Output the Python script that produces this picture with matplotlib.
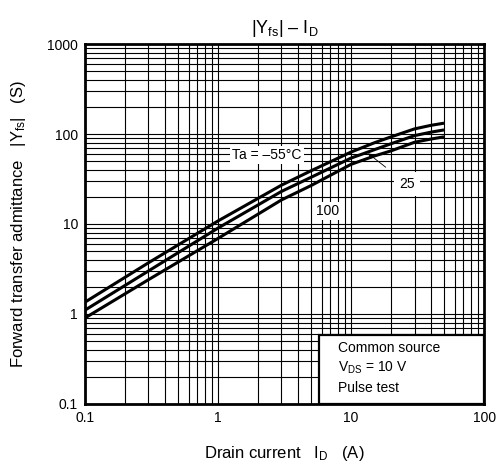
import matplotlib
matplotlib.use("Agg")
import matplotlib.pyplot as plt
from matplotlib.patches import Rectangle
from matplotlib.ticker import LogLocator, NullFormatter, FixedLocator

plt.rcParams["font.family"] = ["Liberation Sans", "DejaVu Sans"]
plt.rcParams["mathtext.fontset"] = "custom"
plt.rcParams["mathtext.rm"] = "Liberation Sans"
plt.rcParams["mathtext.it"] = "Liberation Sans"

# drain current (A)
drain_current = [0.1, 0.3, 1, 3, 5, 10, 15, 20, 30, 40, 50]
# forward transfer admittance |Yfs| (S) per ambient temperature
yfs_m55 = [1.35, 3.7, 10.8, 27, 39, 63, 80, 93, 114, 125, 132]
yfs_25 = [1.1, 3.0, 9.0, 23, 33, 54, 67, 78, 96, 105, 111]
yfs_100 = [0.9, 2.4, 6.9, 18.5, 26.7, 46, 57, 65, 81, 88, 93]

x_ticks = [0.1, 1, 10, 100]
x_tick_labels = ["0.1", "1", "10", "100"]
y_ticks = [0.1, 1, 10, 100, 1000]
y_tick_labels = ["0.1", "1", "10", "100", "1000"]

fig = plt.figure(figsize=(4.97, 4.69), dpi=100)
ax = fig.add_axes([0.171, 0.139, 0.803, 0.767])

for ys in (yfs_m55, yfs_25, yfs_100):
    ax.plot(drain_current, ys, color="black", lw=2.2, solid_capstyle="butt", zorder=3)

ax.set_xscale("log")
ax.set_yscale("log")
ax.set_xlim(0.1, 100)
ax.set_ylim(0.1, 1000)

ax.xaxis.set_major_locator(FixedLocator(x_ticks))
ax.set_xticklabels(x_tick_labels)
ax.yaxis.set_major_locator(FixedLocator(y_ticks))
ax.set_yticklabels(y_tick_labels)
ax.xaxis.set_minor_locator(LogLocator(base=10, subs=range(2, 10)))
ax.yaxis.set_minor_locator(LogLocator(base=10, subs=range(2, 10)))
ax.xaxis.set_minor_formatter(NullFormatter())
ax.yaxis.set_minor_formatter(NullFormatter())
ax.tick_params(which="both", length=0, labelsize=10, pad=5)
ax.grid(which="both", color="black", lw=0.8)

for s in ax.spines.values():
    s.set_linewidth(2)

ax.set_title(r"$|\mathrm{Y_{fs}}|$ – I$_\mathrm{D}$", fontsize=13, pad=8)
ax.set_xlabel(r"Drain current   I$_\mathrm{D}$   (A)", fontsize=12, labelpad=14)
ax.set_ylabel(r"Forward transfer admittance   $|\mathrm{Y_{fs}}|$   (S)", fontsize=12, labelpad=14)

box = dict(boxstyle="square,pad=0.15", fc="white", ec="none")
ax.text(2.33, 58, "Ta = –55°C", fontsize=10, ha="center", va="center", bbox=box, zorder=4)
ax.text(6.7, 13.9, "100", fontsize=10, ha="center", va="center", bbox=box, zorder=4)
ax.annotate("25", xy=(13.4, 61), xytext=(26.4, 27.8), fontsize=10,
            ha="center", va="center", bbox=dict(boxstyle="square,pad=0.35", fc="white", ec="none"),
            arrowprops=dict(arrowstyle="-|>", color="black", lw=0.6, mutation_scale=8,
                            shrinkA=8, shrinkB=0), zorder=4)

ax.add_patch(Rectangle((0.586, 0), 0.414, 0.19, transform=ax.transAxes,
                       fc="white", ec="black", lw=1.6, zorder=5))
ax.text(0.635, 0.155, "Common source", transform=ax.transAxes, fontsize=10, va="center", zorder=6)
ax.text(0.635, 0.1, r"V$_\mathrm{DS}$ = 10 V", transform=ax.transAxes, fontsize=10, va="center", zorder=6)
ax.text(0.635, 0.045, "Pulse test", transform=ax.transAxes, fontsize=10, va="center", zorder=6)

fig.savefig("out.png", dpi=100)
